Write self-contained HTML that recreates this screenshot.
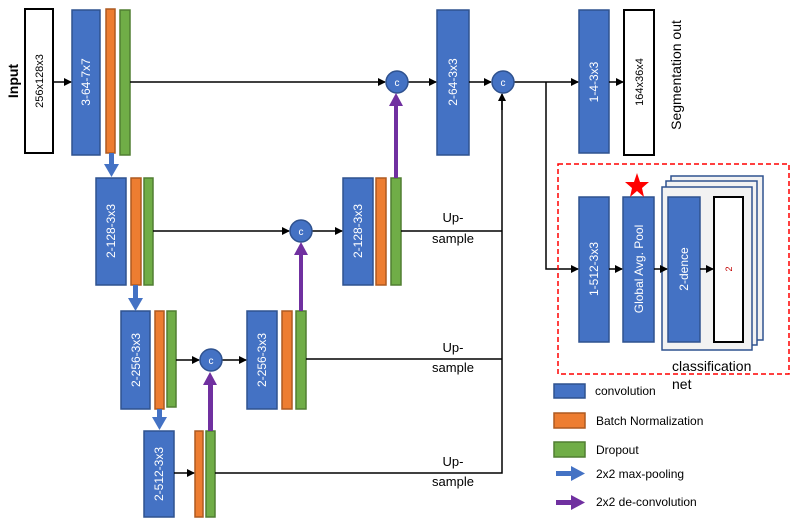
<!DOCTYPE html>
<html><head><style>
html,body{margin:0;padding:0;background:#fff;}
svg text{font-family:"Liberation Sans",sans-serif;}
</style></head><body>
<svg width="798" height="522" viewBox="0 0 798 522" xmlns="http://www.w3.org/2000/svg">
<defs>
<marker id="ah" markerWidth="8" markerHeight="8" refX="7" refY="4" orient="auto" markerUnits="userSpaceOnUse"><path d="M0,0 L8,4 L0,8 z" fill="#000"/></marker>
</defs>
<g stroke="#2f528f" stroke-width="1.5" fill="#4472c4">
<rect x="72" y="10" width="28" height="145"/>
<rect x="96" y="178" width="30" height="107"/>
<rect x="343" y="178" width="30" height="107"/>
<rect x="121" y="311" width="29" height="98"/>
<rect x="247" y="311" width="30" height="98"/>
<rect x="144" y="431" width="30" height="86"/>
<rect x="437" y="10" width="32" height="145"/>
<rect x="579" y="10" width="30" height="143"/>
<rect x="579" y="197" width="30" height="145"/>
<rect x="623" y="197" width="31" height="145"/>
</g>
<g stroke="#ae5a21" stroke-width="1.5" fill="#ed7d31">
<rect x="106" y="9" width="9" height="144"/>
<rect x="131" y="178" width="10" height="107"/>
<rect x="376" y="178" width="10" height="107"/>
<rect x="155" y="311" width="9" height="98"/>
<rect x="282" y="311" width="10" height="98"/>
<rect x="195" y="431" width="8" height="86"/>
</g>
<g stroke="#507e32" stroke-width="1.5" fill="#70ad47">
<rect x="120" y="10" width="10" height="145"/>
<rect x="144" y="178" width="9" height="107"/>
<rect x="391" y="178" width="10" height="107"/>
<rect x="167" y="311" width="9" height="96"/>
<rect x="296" y="311" width="10" height="98"/>
<rect x="206" y="431" width="9" height="86"/>
</g>
<rect x="25" y="9" width="28" height="144" fill="#fff" stroke="#000" stroke-width="2"/>
<rect x="624" y="10" width="30" height="145" fill="#fff" stroke="#000" stroke-width="2"/>
<g stroke="#000" stroke-width="1.5" fill="none">
<line x1="53" y1="82" x2="71" y2="82" marker-end="url(#ah)"/>
<line x1="130" y1="82" x2="385" y2="82" marker-end="url(#ah)"/>
<line x1="408" y1="82" x2="436" y2="82" marker-end="url(#ah)"/>
<line x1="469" y1="82" x2="491" y2="82" marker-end="url(#ah)"/>
<line x1="514" y1="82" x2="578" y2="82" marker-end="url(#ah)"/>
<line x1="609" y1="82" x2="623" y2="82" marker-end="url(#ah)"/>
<line x1="153" y1="231" x2="289" y2="231" marker-end="url(#ah)"/>
<line x1="312" y1="231" x2="342" y2="231" marker-end="url(#ah)"/>
<line x1="176" y1="360" x2="199" y2="360" marker-end="url(#ah)"/>
<line x1="222" y1="360" x2="246" y2="360" marker-end="url(#ah)"/>
<line x1="174" y1="473" x2="194" y2="473" marker-end="url(#ah)"/>
<polyline points="401,231 502,231"/>
<polyline points="306,359 502,359"/>
<polyline points="215,473 502,473 502,95"/>
<line x1="502" y1="110" x2="502" y2="94" marker-end="url(#ah)"/>
<polyline points="546,82 546,269 578,269" marker-end="url(#ah)"/>
<line x1="609" y1="269" x2="622" y2="269" marker-end="url(#ah)"/>
</g>
<g stroke="#2f528f" stroke-width="1.5" fill="#f2f2f2">
<rect x="671" y="176" width="92" height="164"/>
<rect x="666" y="181" width="91" height="164"/>
<rect x="662" y="187" width="90" height="163"/>
</g>
<rect x="668" y="197" width="32" height="145" fill="#4472c4" stroke="#2f528f" stroke-width="1.5"/>
<rect x="714" y="197" width="29" height="145" fill="#fff" stroke="#000" stroke-width="2"/>
<line x1="654" y1="269" x2="667" y2="269" stroke="#000" stroke-width="1.5" marker-end="url(#ah)"/>
<line x1="700" y1="269" x2="713" y2="269" stroke="#000" stroke-width="1.5" marker-end="url(#ah)"/>
<polygon points="637,173 640,182 649,182 642,188 644,197 637,191 630,197 632,188 625,182 634,182" fill="#f00"/>
<rect x="558" y="164" width="231" height="210" fill="none" stroke="#f00" stroke-width="1.5" stroke-dasharray="5,3"/>
<g fill="#4472c4" stroke="#2f528f" stroke-width="1.5">
<circle cx="397" cy="82" r="11"/><circle cx="503" cy="82" r="11"/>
<circle cx="301" cy="231" r="11"/><circle cx="211" cy="360" r="11"/>
</g>
<g fill="#fff" font-size="10" text-anchor="middle">
<text x="397" y="86">c</text><text x="503" y="86">c</text><text x="301" y="235">c</text><text x="211" y="364">c</text>
</g>
<g fill="#4472c4">
<rect x="109" y="153" width="5" height="12"/><polygon points="104,164 119,164 111.5,177"/>
<rect x="133" y="285" width="5" height="14"/><polygon points="128,298 143,298 135.5,311"/>
<rect x="157" y="409" width="5" height="9"/><polygon points="152,417 167,417 159.5,430"/>
<rect x="556" y="471" width="16" height="5"/><polygon points="571,466 585,473.5 571,481"/>
</g>
<g fill="#7030a0">
<rect x="394" y="105" width="4" height="73"/><polygon points="389,106 403,106 396,93"/>
<rect x="299" y="254" width="4" height="57"/><polygon points="294,255 308,255 301,242"/>
<rect x="208" y="384" width="5" height="47"/><polygon points="203,385 217,385 210,372"/>
<rect x="556" y="500" width="16" height="5"/><polygon points="571,495 585,502.5 571,510"/>
</g>
<rect x="554" y="384" width="31" height="14" fill="#4472c4" stroke="#2f528f" stroke-width="1.5"/>
<rect x="554" y="413" width="31" height="15" fill="#ed7d31" stroke="#ae5a21" stroke-width="1.5"/>
<rect x="554" y="442" width="31" height="15" fill="#70ad47" stroke="#507e32" stroke-width="1.5"/>
<g font-size="12" fill="#000">
<text x="595" y="395">convolution</text>
<text x="596" y="425">Batch Normalization</text>
<text x="596" y="454">Dropout</text>
<text x="596" y="478">2x2 max-pooling</text>
<text x="596" y="506">2x2 de-convolution</text>
<text x="672" y="371" font-size="14">classification</text>
<text x="672" y="389" font-size="14">net</text>
</g>
<g font-size="13" fill="#000" text-anchor="middle">
<text x="453" y="222">Up-</text><text x="453" y="243">sample</text>
<text x="453" y="352">Up-</text><text x="453" y="372">sample</text>
<text x="453" y="466">Up-</text><text x="453" y="486">sample</text>
</g>
<g font-size="12" fill="#fff" text-anchor="middle">
<text transform="translate(90,82) rotate(-90)">3-64-7x7</text>
<text transform="translate(115,231) rotate(-90)">2-128-3x3</text>
<text transform="translate(362,231) rotate(-90)">2-128-3x3</text>
<text transform="translate(140,360) rotate(-90)">2-256-3x3</text>
<text transform="translate(266,360) rotate(-90)">2-256-3x3</text>
<text transform="translate(163,474) rotate(-90)">2-512-3x3</text>
<text transform="translate(457,82) rotate(-90)">2-64-3x3</text>
<text transform="translate(598,82) rotate(-90)">1-4-3x3</text>
<text transform="translate(598,269) rotate(-90)">1-512-3x3</text>
<text transform="translate(643,269) rotate(-90)">Global Avg. Pool</text>
<text transform="translate(688,269) rotate(-90)">2-dence</text>
</g>
<g font-size="11" fill="#000" text-anchor="middle">
<text transform="translate(43,81) rotate(-90)">256x128x3</text>
<text transform="translate(643,82) rotate(-90)">164x36x4</text>
<text transform="translate(732,269) rotate(-90)" font-size="9" fill="#c00000">2</text>
</g>
<g font-size="14" fill="#000" text-anchor="middle">
<text transform="translate(18,81) rotate(-90)" font-weight="bold">Input</text>
<text transform="translate(681,75) rotate(-90)">Segmentation out</text>
</g>
</svg>
</body></html>
